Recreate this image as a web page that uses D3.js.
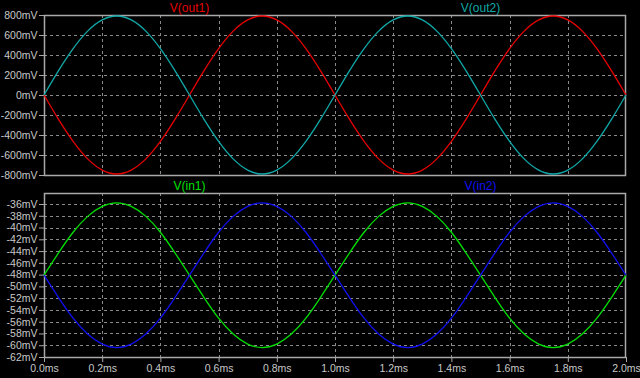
<!DOCTYPE html>
<html>
<head>
<meta charset="utf-8">
<script src="https://cdn.jsdelivr.net/npm/d3@7"></script>
<style>
  html, body { margin: 0; padding: 0; background: #000; }
  svg { display: block; }
  text { font-family: Arial, "Liberation Sans", sans-serif; }
</style>
</head>
<body>
<svg id="chart" width="640" height="378"></svg>
<script>
// time axis samples (ms)
const times = [0.00, 0.05, 0.10, 0.15, 0.20, 0.25, 0.30, 0.35, 0.40, 0.45,
  0.50, 0.55, 0.60, 0.65, 0.70, 0.75, 0.80, 0.85, 0.90, 0.95,
  1.00, 1.05, 1.10, 1.15, 1.20, 1.25, 1.30, 1.35, 1.40, 1.45,
  1.50, 1.55, 1.60, 1.65, 1.70, 1.75, 1.80, 1.85, 1.90, 1.95, 2.00];

// top pane, mV
const out1 = [0, -244, -464, -639, -751, -790, -751, -639, -464, -244,
  0, 244, 464, 639, 751, 790, 751, 639, 464, 244,
  0, -244, -464, -639, -751, -790, -751, -639, -464, -244,
  0, 244, 464, 639, 751, 790, 751, 639, 464, 244, 0];
const out2 = [0, 244, 464, 639, 751, 790, 751, 639, 464, 244,
  0, -244, -464, -639, -751, -790, -751, -639, -464, -244,
  0, 244, 464, 639, 751, 790, 751, 639, 464, 244,
  0, -244, -464, -639, -751, -790, -751, -639, -464, -244, 0];

// bottom pane, mV
const in1 = [-48.1, -44.3, -40.8, -38.1, -36.4, -35.8, -36.4, -38.1, -40.8, -44.3,
  -48.1, -51.9, -55.4, -58.1, -59.8, -60.4, -59.8, -58.1, -55.4, -51.9,
  -48.1, -44.3, -40.8, -38.1, -36.4, -35.8, -36.4, -38.1, -40.8, -44.3,
  -48.1, -51.9, -55.4, -58.1, -59.8, -60.4, -59.8, -58.1, -55.4, -51.9, -48.1];
const in2 = [-48.1, -51.9, -55.4, -58.1, -59.8, -60.4, -59.8, -58.1, -55.4, -51.9,
  -48.1, -44.3, -40.8, -38.1, -36.4, -35.8, -36.4, -38.1, -40.8, -44.3,
  -48.1, -51.9, -55.4, -58.1, -59.8, -60.4, -59.8, -58.1, -55.4, -51.9,
  -48.1, -44.3, -40.8, -38.1, -36.4, -35.8, -36.4, -38.1, -40.8, -44.3, -48.1];

const xTicks = [0, 0.2, 0.4, 0.6, 0.8, 1.0, 1.2, 1.4, 1.6, 1.8, 2.0];
const topTicks = [-800, -600, -400, -200, 0, 200, 400, 600, 800];
const botTicks = [-62, -60, -58, -56, -54, -52, -50, -48, -46, -44, -42, -40, -38, -36];

const svg = d3.select('#chart');
const left = 44, right = 626;

const x = d3.scaleLinear().domain([0, 2]).range([left, right]);

const panes = [
  { y: d3.scaleLinear().domain([-800, 800]).range([175, 15]), ticks: topTicks, xLabels: false,
    traces: [
      { name: 'V(out1)', vals: out1, color: '#e80000', at: 0.5 },
      { name: 'V(out2)', vals: out2, color: '#10a8a8', at: 1.5 }
    ] },
  { y: d3.scaleLinear().domain([-62, -34.13]).range([357, 193]), ticks: botTicks, xLabels: true,
    traces: [
      { name: 'V(in1)', vals: in1, color: '#00e000', at: 0.5 },
      { name: 'V(in2)', vals: in2, color: '#1010f0', at: 1.5 }
    ] }
];

const gridColor = '#8a8a8a', boxColor = '#a8a8a8', labelColor = '#c8c8c8';

panes.forEach((p) => {
  const g = svg.append('g');
  const [yb, yt] = p.y.range();

  // dashed grid
  g.selectAll('.hgrid').data(p.ticks.filter((t) => t !== p.y.domain()[0]))
    .enter().append('line')
    .attr('x1', left).attr('x2', right)
    .attr('y1', (d) => Math.round(p.y(d)) + 0.5).attr('y2', (d) => Math.round(p.y(d)) + 0.5)
    .attr('stroke', gridColor).attr('stroke-dasharray', '3,3');
  g.selectAll('.vgrid').data(xTicks.slice(1, -1))
    .enter().append('line')
    .attr('x1', (d) => Math.round(x(d)) + 0.5).attr('x2', (d) => Math.round(x(d)) + 0.5)
    .attr('y1', yt).attr('y2', yb)
    .attr('stroke', gridColor).attr('stroke-dasharray', '3,3');

  // box
  g.append('rect')
    .attr('x', left + 0.5).attr('y', yt + 0.5)
    .attr('width', right - left - 1).attr('height', yb - yt)
    .attr('fill', 'none').attr('stroke', boxColor).attr('stroke-width', 1.5);

  // y axis labels + ticks
  const yAxis = d3.axisLeft(p.y).tickValues(p.ticks).tickSize(5).tickPadding(1.5)
    .tickFormat((d) => d + 'mV');
  const ya = g.append('g').attr('transform', `translate(${left},0)`).call(yAxis);
  ya.select('.domain').remove();
  ya.selectAll('line').attr('stroke', boxColor);
  ya.selectAll('text').attr('fill', labelColor).style('font-size', '10.5px');

  if (p.xLabels) {
    const xAxis = d3.axisBottom(x).tickValues(xTicks).tickSize(5).tickPadding(3)
      .tickFormat((d) => d.toFixed(1) + 'ms');
    const xa = g.append('g').attr('transform', `translate(0,${yb})`).call(xAxis);
    xa.select('.domain').remove();
    xa.selectAll('line').attr('stroke', boxColor);
    xa.selectAll('text').attr('fill', labelColor).style('font-size', '10.5px');
  }

  // traces
  const line = d3.line().x((d, i) => x(times[i])).y((d) => p.y(d)).curve(d3.curveNatural);
  p.traces.forEach((t) => {
    g.append('path').datum(t.vals)
      .attr('d', line)
      .attr('fill', 'none').attr('stroke', t.color).attr('stroke-width', 1.3);
    g.append('text')
      .attr('x', x(t.at)).attr('y', yt - 3)
      .attr('text-anchor', 'middle')
      .attr('fill', t.color).style('font-size', '12px')
      .text(t.name);
  });
});
</script>
</body>
</html>
